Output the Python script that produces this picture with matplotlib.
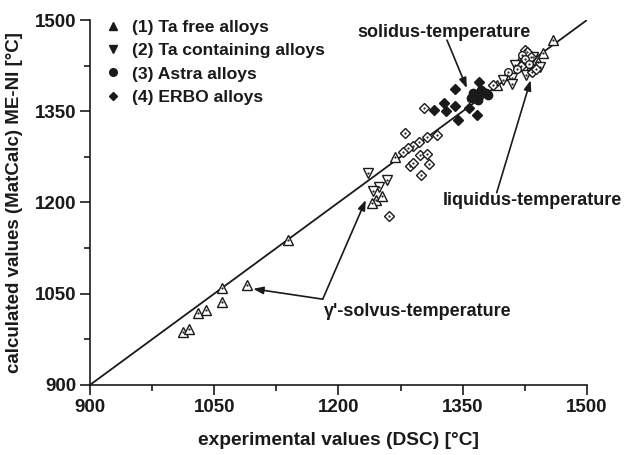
import matplotlib
matplotlib.use("Agg")
import matplotlib.pyplot as plt
from matplotlib.lines import Line2D
from matplotlib.ticker import MultipleLocator

plt.rcParams['font.family'] = ['Liberation Sans', 'DejaVu Sans']
plt.rcParams['font.weight'] = 'bold'
plt.rcParams['axes.labelweight'] = 'bold'

INK = '#1a1a1a'

# (1) Ta free alloys - open up triangles (solvus / liquidus)
tafree_x = [1012, 1020, 1030, 1040, 1059, 1060, 1089, 1139, 1268, 1245, 1240, 1253,
            1459, 1447, 1441, 1419, 1403, 1391, 1430]
tafree_y = [987, 992, 1018, 1023, 1036, 1059, 1064, 1139, 1275, 1204, 1199, 1211,
            1467, 1446, 1431, 1434, 1410, 1393, 1418]

# (2) Ta containing alloys - open down triangles
tacont_x = [1236, 1259, 1249, 1242, 1427, 1443, 1399, 1413, 1409, 1435, 1410]
tacont_y = [1248, 1237, 1225, 1219, 1410, 1423, 1401, 1426, 1405, 1440, 1395]

# (3) Astra alloys - solidus (filled) and liquidus (open)
astra_sol_x = [1360, 1365, 1370, 1375, 1368, 1378, 1372, 1362, 1380]
astra_sol_y = [1372, 1378, 1375, 1382, 1368, 1380, 1385, 1380, 1376]
astra_liq_x = [1422, 1425, 1415, 1405, 1430]
astra_liq_y = [1442, 1436, 1420, 1414, 1428]

# (4) ERBO alloys - solidus (filled) and others (open)
erbo_sol_x = [1341, 1370, 1328, 1315, 1330, 1341, 1344, 1367, 1357, 1362]
erbo_sol_y = [1387, 1398, 1364, 1352, 1350, 1359, 1336, 1344, 1355, 1375]
erbo_open_x = [1261, 1303, 1280, 1319, 1307, 1297, 1290, 1284, 1278, 1298, 1307, 1309,
               1286, 1290, 1300, 1387, 1425, 1434, 1428, 1420, 1432, 1438]
erbo_open_y = [1178, 1355, 1314, 1311, 1308, 1300, 1293, 1290, 1283, 1278, 1280, 1263,
               1260, 1265, 1245, 1393, 1451, 1415, 1447, 1425, 1440, 1420]

legend_labels = ['(1) Ta free alloys', '(2) Ta containing alloys',
                 '(3) Astra alloys', '(4) ERBO alloys']

fig = plt.figure(figsize=(6.38, 4.55), dpi=100)
ax = fig.add_axes([0.141, 0.154, 0.779, 0.802])

# identity line
ax.plot([900, 1500], [900, 1500], color=INK, lw=1.3, zorder=1)

def open_pts(x, y, marker, ms):
    ax.plot(x, y, ls='none', marker=marker, ms=ms, mfc='white', mec=INK, mew=1.0, zorder=3)
    ax.plot(x, y, ls='none', marker='.', ms=1.2, color=INK, zorder=4)

open_pts(tafree_x, tafree_y, '^', 6.5)
open_pts(tacont_x, tacont_y, 'v', 6.5)
open_pts(erbo_open_x, erbo_open_y, 'D', 5)
open_pts(astra_liq_x, astra_liq_y, 'o', 5.5)
ax.plot(erbo_sol_x, erbo_sol_y, ls='none', marker='D', ms=5.5, color=INK, zorder=3)
ax.plot(astra_sol_x, astra_sol_y, ls='none', marker='o', ms=6, color=INK, zorder=3)

ax.set_xlim(900, 1500)
ax.set_ylim(900, 1500)
ax.xaxis.set_major_locator(MultipleLocator(150))
ax.xaxis.set_minor_locator(MultipleLocator(75))
ax.yaxis.set_major_locator(MultipleLocator(150))
ax.yaxis.set_minor_locator(MultipleLocator(75))
for s in ['top', 'right']:
    ax.spines[s].set_visible(False)
for s in ['left', 'bottom']:
    ax.spines[s].set_color(INK)
    ax.spines[s].set_linewidth(1.2)
ax.tick_params(which='major', direction='out', length=7, width=1.2, color=INK,
               labelsize=13.5, labelcolor=INK, pad=3)
ax.tick_params(which='minor', direction='out', length=4, width=1.2, color=INK)

ax.set_xlabel('experimental values (DSC) [°C]', fontsize=13.8, color=INK, labelpad=12)
ax.set_ylabel('calculated values (MatCalc) ME-NI [°C]', fontsize=13.5, color=INK, labelpad=8)

handles = [Line2D([], [], ls='none', marker=m, ms=ms, color=INK)
           for m, ms in [('^', 6), ('v', 6), ('o', 5.5), ('D', 4.5)]]
ax.legend(handles, legend_labels, loc='upper left', bbox_to_anchor=(0.0, 1.04),
          frameon=False, fontsize=12.6, handlelength=1.0, handletextpad=0.6,
          labelspacing=0.47, borderaxespad=0.4, labelcolor=INK)

arrow = dict(arrowstyle='-|>,head_length=0.6,head_width=0.22', color=INK, lw=1.2,
             shrinkA=0, shrinkB=0)
ax.text(1327, 1479, 'solidus-temperature', fontsize=13, color=INK,
        ha='center', va='center')
ax.annotate('', xy=(1355, 1388), xytext=(1331, 1467), arrowprops=arrow)
ax.text(1434, 1204, 'liquidus-temperature', fontsize=13, color=INK,
        ha='center', va='center')
ax.annotate('', xy=(1432, 1401), xytext=(1391, 1216), arrowprops=arrow)
ax.text(1296, 1020, "γ'-solvus-temperature", fontsize=13, color=INK,
        ha='center', va='center')
ax.annotate('', xy=(1097, 1058), xytext=(1181, 1041), arrowprops=arrow)
ax.annotate('', xy=(1233, 1204), xytext=(1181, 1041), arrowprops=arrow)

fig.savefig('out.png', dpi=100)
